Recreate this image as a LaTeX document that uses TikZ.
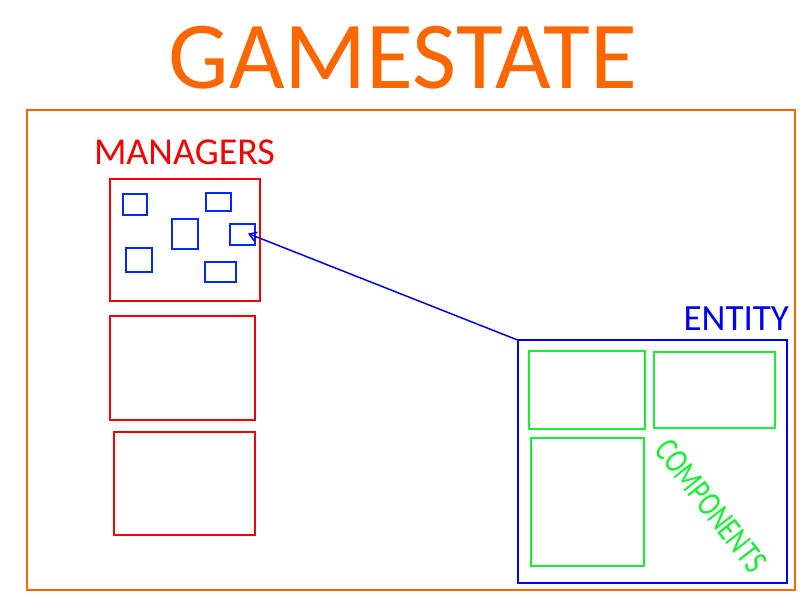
\documentclass[tikz,border=0pt]{standalone}
\usepackage{fontspec}
\setmainfont{Carlito}
\usetikzlibrary{arrows.meta}
\definecolor{gsorange}{RGB}{255,102,0}
\definecolor{mgrred}{RGB}{245,0,0}
\definecolor{entblue}{RGB}{0,0,240}
\definecolor{smallblue}{RGB}{0,40,255}
\definecolor{compgreen}{RGB}{20,240,50}
\tikzset{
  box/.style={draw, inner sep=0pt, outer sep=0pt, line width=2pt},
  frame/.style={box, draw=gsorange},
  mgr/.style={box, draw=mgrred},
  small/.style={box, draw=smallblue},
  ent/.style={box, draw=entblue},
  comp/.style={box, draw=compgreen},
  label/.style={inner sep=0pt, outer sep=0pt}
}
\begin{document}
\begin{tikzpicture}[x=1pt,y=-1pt]
\useasboundingbox (0,0) rectangle (800,600);
% title
\node[label, anchor=base, text=gsorange, font=\fontsize{96}{96}\selectfont] (title) at (403,88) {GAMESTATE};
% outer frame
\node[frame, minimum width=768pt, minimum height=480pt] (frame) at (411,350) {};
% managers
\node[label, anchor=base west, text=mgrred, font=\fontsize{38}{38}\selectfont] (mgrlabel) at (94,164) {MANAGERS};
\node[mgr, minimum width=150pt, minimum height=122pt] (m1) at (185,240) {};
\node[mgr, minimum width=145pt, minimum height=104pt] (m2) at (182.5,368) {};
\node[mgr, minimum width=141pt, minimum height=103pt] (m3) at (184.5,483.5) {};
% small boxes in the first manager
\node[small, minimum width=24.6pt, minimum height=21pt] (s1) at (135,204.8) {};
\node[small, minimum width=25pt, minimum height=17.7pt] (s2) at (218.8,202.2) {};
\node[small, minimum width=26.6pt, minimum height=30.3pt] (s3) at (185,233.8) {};
\node[small, minimum width=25.6pt, minimum height=21.3pt] (s4) at (242.5,234.3) {};
\node[small, minimum width=26pt, minimum height=24.3pt] (s5) at (139.3,259.8) {};
\node[small, minimum width=31pt, minimum height=20.3pt] (s6) at (220.8,271.8) {};
\coordinate (target) at (248,233.5);
% entity
\node[label, anchor=base east, text=entblue, font=\fontsize{37}{37}\selectfont] (entlabel) at (789,330) {ENTITY};
\node[ent, minimum width=269.6pt, minimum height=243.3pt] (entity) at (652.5,461.7) {};
\node[comp, minimum width=116.6pt, minimum height=78pt] (g1) at (587,390) {};
\node[comp, minimum width=121.6pt, minimum height=76pt] (g2) at (714.5,390) {};
\node[comp, minimum width=113.6pt, minimum height=128.3pt] (g3) at (587.5,501.8) {};
\node[label, text=compgreen, rotate=-52, xscale=0.76, font=\fontsize{35}{35}\selectfont] (complabel) at (711,506) {COMPONENTS};
% connector
\draw[entblue, line width=1.5pt, -{Straight Barb[length=7pt,width=9pt]}] (entity.north west) -- (target);
\end{tikzpicture}
\end{document}
